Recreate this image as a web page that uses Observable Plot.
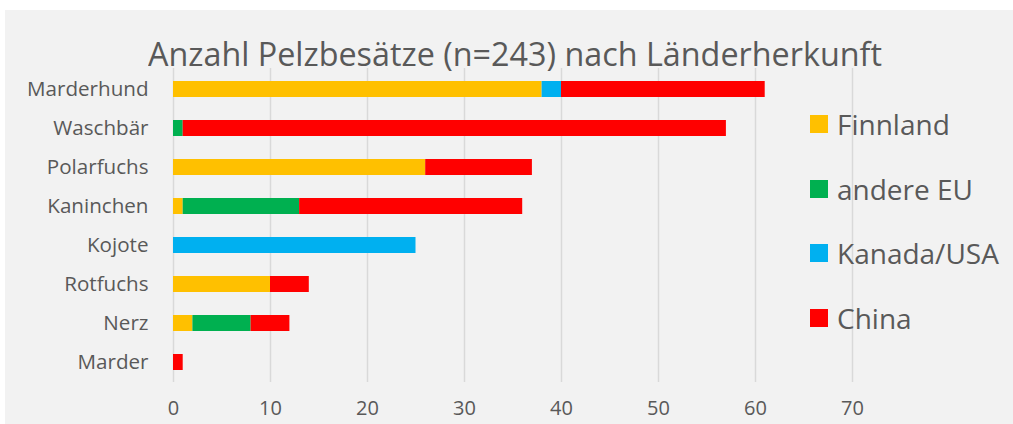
<!DOCTYPE html>
<html>
<head>
<meta charset="utf-8">
<script src="https://cdn.jsdelivr.net/npm/d3@7"></script>
<script src="https://cdn.jsdelivr.net/npm/@observablehq/plot@0.6"></script>
<style>
  html, body { margin: 0; padding: 0; background: #ffffff; width: 1013px; height: 424px; overflow: hidden; }
  #frame { position: absolute; left: 5px; top: 10px; width: 1008px; height: 414px; background: #f2f2f2; font-family: "Open Sans", sans-serif; color: #595959; }
  #title { position: absolute; left: 0; top: 0; width: 1008px; height: 60px; }
  #title span { position: absolute; white-space: nowrap; font-size: 33px; line-height: 1; transform-origin: 0 0; }
  #chart { position: absolute; left: 0; top: 48px; }
  .leg { position: absolute; left: 805px; display: flex; align-items: center; font-size: 28px; white-space: nowrap; }
  .leg i { display: inline-block; width: 18px; height: 18px; margin-right: 9px; }
</style>
</head>
<body>
<div id="frame">
  <div id="title"><span>Anzahl Pelzbesätze (n=243) nach Länderherkunft</span></div>
  <div id="chart"></div>
  <div id="legend"></div>
</div>
<script>
const categories = ["Marderhund", "Waschbär", "Polarfuchs", "Kaninchen", "Kojote", "Rotfuchs", "Nerz", "Marder"];
const seriesNames = ["Finnland", "andere EU", "Kanada/USA", "China"];
const seriesColors = ["#FFC000", "#00B050", "#00B0F0", "#FF0000"];
const finnland  = [38, 0, 26, 1, 0, 10, 2, 0];
const andereEU  = [0, 1, 0, 12, 0, 0, 6, 0];
const kanadaUSA = [2, 0, 0, 0, 25, 0, 0, 0];
const china     = [21, 56, 11, 23, 0, 4, 4, 1];
const xTicks = [0, 10, 20, 30, 40, 50, 60, 70];

const seriesValues = [finnland, andereEU, kanadaUSA, china];
const rows = [];
categories.forEach((c, i) => {
  seriesNames.forEach((s, j) => {
    rows.push({ category: c, series: s, value: seriesValues[j][i] });
  });
});

const chart = Plot.plot({
  width: 1008,
  height: 366,
  marginLeft: 168,
  marginRight: 161,
  marginTop: 10,
  marginBottom: 42,
  style: { background: "transparent", fontFamily: "Open Sans, sans-serif", fontSize: "20px", color: "#595959" },
  x: { domain: [0, 70], ticks: xTicks, tickSize: 0, tickPadding: 18, label: null },
  y: { domain: categories, paddingInner: 0.6, paddingOuter: 0.3, tickSize: 0, tickPadding: 25, label: null },
  color: { domain: seriesNames, range: seriesColors },
  marks: [
    Plot.gridX(xTicks, { stroke: "#d9d9d9", strokeOpacity: 1, strokeWidth: 1.5 }),
    Plot.barX(rows.filter(d => d.value > 0), Plot.stackX({ x: "value", y: "category", fill: "series", order: seriesNames })),
    Plot.axisX({ ticks: xTicks, tickSize: 0, tickPadding: 18, fill: "#595959", fontSize: 20 }),
    Plot.axisY({ tickSize: 0, tickPadding: 25, fill: "#595959", fontSize: 20.6 })
  ]
});
document.getElementById("chart").appendChild(chart);

// Legend
const legend = document.getElementById("legend");
const legendCenters = [114, 179, 243, 308];
seriesNames.forEach((s, i) => {
  const div = document.createElement("div");
  div.className = "leg";
  div.innerHTML = `<i style="background:${seriesColors[i]}"></i><span>${s}</span>`;
  div.style.top = (legendCenters[i] - 19) + "px";
  div.style.height = "38px";
  legend.appendChild(div);
});

// Title (condensed like the original)
const t = document.querySelector("#title span");
const w = t.getBoundingClientRect().width;
const targetW = 734;
const sx = targetW / w;
t.style.transform = `scaleX(${sx})`;
t.style.left = (515 - 5 - targetW / 2) + "px";
t.style.top = "27px";
</script>
</body>
</html>
